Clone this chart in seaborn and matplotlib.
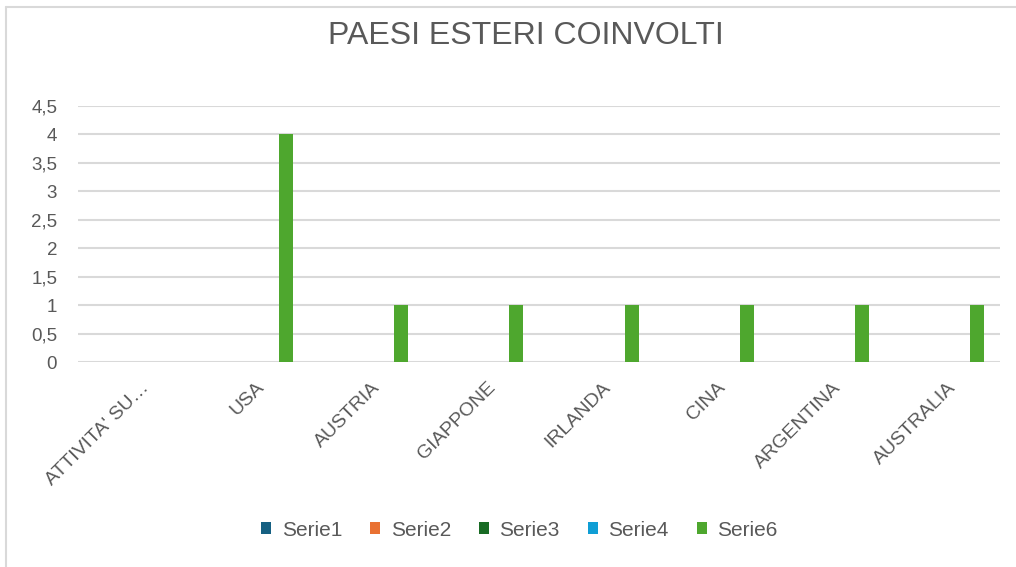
import numpy as np
import pandas as pd
import seaborn as sns
import matplotlib
matplotlib.use("Agg")
import matplotlib.pyplot as plt
import matplotlib.transforms as mtransforms
from matplotlib.patches import Patch
from matplotlib.lines import Line2D

# ---- data ----
categories = ["ATTIVITA' SU…", "USA", "AUSTRIA", "GIAPPONE", "IRLANDA", "CINA", "ARGENTINA", "AUSTRALIA"]
series_names = ["Serie1", "Serie2", "Serie3", "Serie4", "Serie5", "Serie6"]
serie1 = [0, 0, 0, 0, 0, 0, 0, 0]
serie2 = [0, 0, 0, 0, 0, 0, 0, 0]
serie3 = [0, 0, 0, 0, 0, 0, 0, 0]
serie4 = [0, 0, 0, 0, 0, 0, 0, 0]
serie5 = [0, 0, 0, 0, 0, 0, 0, 0]
serie6 = [0, 4, 1, 1, 1, 1, 1, 1]
legend_series = ["Serie1", "Serie2", "Serie3", "Serie4", "Serie6"]
y_ticks = [0, 0.5, 1, 1.5, 2, 2.5, 3, 3.5, 4, 4.5]
title = "PAESI ESTERI COINVOLTI"

colors = {"Serie1": "#156082", "Serie2": "#E97132", "Serie3": "#196B24",
          "Serie4": "#0F9ED5", "Serie5": "#A02B93", "Serie6": "#4EA72E"}

values = [serie1, serie2, serie3, serie4, serie5, serie6]
rows = []
for name, vals in zip(series_names, values):
    for cat, v in zip(categories, vals):
        rows.append({"categoria": cat, "serie": name, "valore": v})
df = pd.DataFrame(rows)

# ---- style ----
sns.set_theme(style="white")
plt.rcParams["font.family"] = ["Liberation Sans", "DejaVu Sans"]
text_color = "#595959"
grid_color = "#d9d9d9"

W, H = 1016, 567
fig = plt.figure(figsize=(W / 100, H / 100), dpi=100)
fig.patch.set_facecolor("white")

ax_left, ax_right = 78, 1000
ax_top, ax_bottom = 105.7, 362.3
ax = fig.add_axes([ax_left / W, 1 - ax_bottom / H, (ax_right - ax_left) / W, (ax_bottom - ax_top) / H])

sns.barplot(data=df, x="categoria", y="valore", hue="serie", order=categories,
            hue_order=series_names, palette=colors, width=0.73, linewidth=0,
            saturation=1, errorbar=None, legend=False, ax=ax)

ax.set_xlim(-0.5, len(categories) - 0.5)
ax.set_ylim(0, 4.5)
ax.set_yticks(y_ticks)
ax.set_yticklabels([f"{v:g}".replace(".", ",") for v in y_ticks])
ax.set_xticks(range(len(categories)))
ax.set_xticklabels(categories, rotation=45, ha="right", rotation_mode="anchor")
ax.set_xlabel("")
ax.set_ylabel("")
for s in ax.spines.values():
    s.set_visible(False)
ax.grid(axis="y", color=grid_color, linewidth=1.5)
ax.grid(axis="x", visible=False)
ax.set_axisbelow(True)
ax.tick_params(axis="y", length=0, pad=15, labelsize=13.5, labelcolor=text_color)
ax.tick_params(axis="x", length=0, pad=12, labelsize=14, labelcolor=text_color)
shift = mtransforms.ScaledTranslation(5 / 100, 0, fig.dpi_scale_trans)
for lbl in ax.get_xticklabels():
    lbl.set_transform(lbl.get_transform() + shift)

fig.text(525.5 / W, 1 - 44.3 / H, title, ha="center", va="baseline",
         fontsize=23, color=text_color)

handles = [Patch(facecolor=colors[s], edgecolor="none") for s in legend_series]
fig.legend(handles, legend_series, loc="center", bbox_to_anchor=(519.5 / W, 1 - 530 / H),
           ncol=5, frameon=False, fontsize=15, handlelength=0.48, handleheight=0.48,
           handletextpad=0.5, columnspacing=1.35, labelcolor=text_color)

# chart-area border (left and top visible)
fig.add_artist(Line2D([6 / W, 6 / W], [0, 1 - 7 / H], transform=fig.transFigure,
                      color=grid_color, linewidth=1.5))
fig.add_artist(Line2D([6 / W, 1], [1 - 7 / H, 1 - 7 / H], transform=fig.transFigure,
                      color=grid_color, linewidth=1.5))

fig.savefig("out.png", dpi=100)
